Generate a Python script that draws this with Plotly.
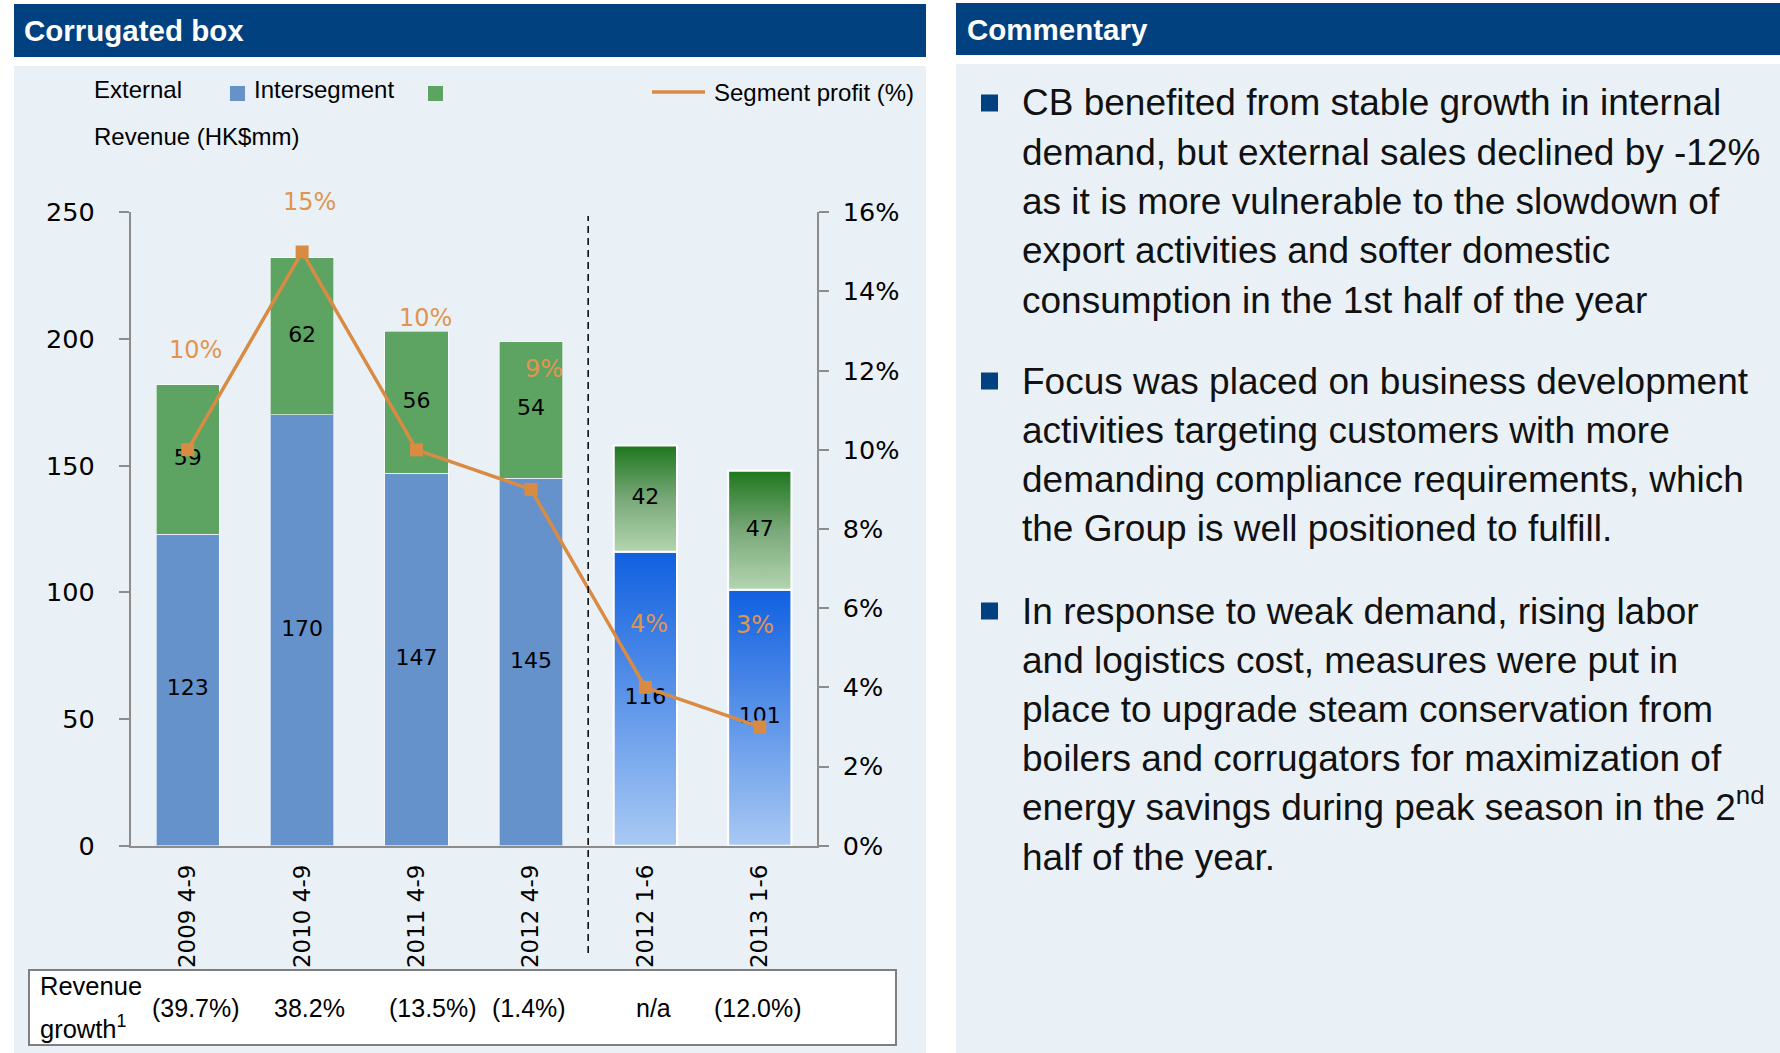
"""Corrugated box revenue slide: stacked revenue bars, profit margin line, commentary."""

import plotly.graph_objects as go

CATEGORIES = ["2009 4-9", "2010 4-9", "2011 4-9", "2012 4-9", "2012 1-6", "2013 1-6"]
EXTERNAL = [123, 170, 147, 145, 116, 101]
INTERSEGMENT = [59, 62, 56, 54, 42, 47]
SEGMENT_PROFIT = [0.10, 0.15, 0.10, 0.09, 0.04, 0.03]
REVENUE_GROWTH = ["(39.7%)", "38.2%", "(13.5%)", "(1.4%)", "n/a", "(12.0%)"]
N_FULL_PERIODS = 4  # first four are Apr-Sep periods, the rest are half-years

COMMENTARY = [
    [
        "CB benefited from stable growth in internal",
        "demand, but external sales declined by -12%",
        "as it is more vulnerable to the slowdown of",
        "export activities and softer domestic",
        "consumption in the 1st half of the year",
    ],
    [
        "Focus was placed on business development",
        "activities targeting customers with more",
        "demanding compliance requirements, which",
        "the Group is well positioned to fulfill.",
    ],
    [
        "In response to weak demand, rising labor",
        "and logistics cost, measures were put in",
        "place to upgrade steam conservation from",
        "boilers and corrugators for maximization of",
        "energy savings during peak season in the 2<sup>nd</sup>",
        "half of the year.",
    ],
]

W, H = 1780, 1053
HEADER_BLUE = "#02417F"
PANEL_BG = "#EAF1F6"
EXT_COLOUR = "#6592CB"
INT_COLOUR = "#5DA463"
PROFIT_COLOUR = "#D98B43"
PROFIT_LABEL_COLOUR = "#E0954F"
AXIS_GREY = "#8C8C8C"
BLUE_FADE = [[0, "#A9C9F3"], [1, "#1060E0"]]
GREEN_FADE = [[0, "#B3D5B0"], [0.5, "#79A879"], [1, "#1E771E"]]

BAR_W = 0.553
SANS = "Liberation Sans, Arial, sans-serif"
TICK_FONT = dict(family="DejaVu Sans", size=25.5, color="black")
LABEL_FONT = dict(family="DejaVu Sans", size=22, color="black")
LEGEND_FONT = dict(family=SANS, size=24, color="black")
HEADER_FONT = dict(family=SANS, size=29.5, color="white")

# label offsets (pixels) for the profit % labels and growth row
PROFIT_XSHIFT = [8, 7, 9, 13, 4, -5]
PROFIT_YSHIFT = [100, 50, 132, 120, 63, 102]
GROWTH_XSHIFT = [8, 7, 16, -2, 8, -2]


def fx(px):
    return px / W


def fy(py):
    return 1 - py / H


def paper_text(fig, text, px, py, font):
    fig.add_annotation(
        text=text, x=fx(px), y=fy(py), xref="paper", yref="paper",
        xanchor="left", yanchor="middle", showarrow=False, font=font,
    )


def paper_rect(x0, y0, x1, y1, **kw):
    return dict(type="rect", xref="paper", yref="paper",
                x0=fx(x0), x1=fx(x1), y0=fy(y1), y1=fy(y0), **kw)


fig = go.Figure()
xs = list(range(len(CATEGORIES)))

# solid bars for the full periods
for vals, colour in [(EXTERNAL, EXT_COLOUR), (INTERSEGMENT, INT_COLOUR)]:
    fig.add_trace(
        go.Bar(
            x=xs[:N_FULL_PERIODS],
            y=vals[:N_FULL_PERIODS],
            width=BAR_W,
            marker=dict(color=colour, line=dict(color="rgba(255,255,255,0.6)", width=1)),
            hoverinfo="skip",
        )
    )

# gradient bars for the half-year periods
for i in xs[N_FULL_PERIODS:]:
    for base, val, scale in [(0, EXTERNAL[i], BLUE_FADE), (EXTERNAL[i], INTERSEGMENT[i], GREEN_FADE)]:
        x0, x1 = i - BAR_W / 2, i + BAR_W / 2
        fig.add_trace(
            go.Scatter(
                x=[x0, x1, x1, x0, x0],
                y=[base, base, base + val, base + val, base],
                mode="lines",
                fill="toself",
                fillgradient=dict(type="vertical", colorscale=scale, start=base, stop=base + val),
                line=dict(color="white", width=2),
                hoverinfo="skip",
            )
        )

# value labels in the middle of each segment
fig.add_trace(
    go.Scatter(
        x=xs,
        y=[e / 2 for e in EXTERNAL],
        mode="text",
        text=[str(e) for e in EXTERNAL],
        textfont=LABEL_FONT,
        hoverinfo="skip",
    )
)
fig.add_trace(
    go.Scatter(
        x=xs,
        y=[e + s / 2 for e, s in zip(EXTERNAL, INTERSEGMENT)],
        mode="text",
        text=[str(s) for s in INTERSEGMENT],
        textfont=LABEL_FONT,
        hoverinfo="skip",
    )
)

# segment profit line on the right axis
fig.add_trace(
    go.Scatter(
        x=xs,
        y=SEGMENT_PROFIT,
        yaxis="y2",
        mode="lines+markers",
        line=dict(color=PROFIT_COLOUR, width=3.5),
        marker=dict(symbol="square", size=13, color=PROFIT_COLOUR),
        hoverinfo="skip",
    )
)

for i, p in enumerate(SEGMENT_PROFIT):
    fig.add_annotation(
        x=i, y=p, xref="x", yref="y2",
        text=f"{p:.0%}", showarrow=False,
        xshift=PROFIT_XSHIFT[i], yshift=PROFIT_YSHIFT[i],
        font=dict(family="DejaVu Sans", size=24, color=PROFIT_LABEL_COLOUR),
    )

shapes = [
    # headers and panels
    paper_rect(14, 4, 926, 57, fillcolor=HEADER_BLUE, line=dict(width=0), layer="below"),
    paper_rect(14, 66, 926, 1060, fillcolor=PANEL_BG, line=dict(width=0), layer="below"),
    paper_rect(956, 3, 1785, 55, fillcolor=HEADER_BLUE, line=dict(width=0), layer="below"),
    paper_rect(956, 64, 1785, 1060, fillcolor=PANEL_BG, line=dict(width=0), layer="below"),
    # legend keys
    paper_rect(230, 86, 245, 101, fillcolor=EXT_COLOUR, line=dict(width=0)),
    paper_rect(428, 86, 443, 101, fillcolor=INT_COLOUR, line=dict(width=0)),
    dict(type="line", xref="paper", yref="paper", x0=fx(652), x1=fx(705), y0=fy(92), y1=fy(92),
         line=dict(color=PROFIT_COLOUR, width=3.5)),
    # divider between Apr-Sep periods and half-years
    dict(type="line", xref="x", yref="paper", x0=N_FULL_PERIODS - 0.5, x1=N_FULL_PERIODS - 0.5,
         y0=fy(953), y1=fy(216), line=dict(color="black", width=1.5, dash="7px,5px")),
    # revenue growth table
    paper_rect(29, 970, 896, 1045, fillcolor="white", line=dict(color="#7F7F7F", width=2)),
]

# commentary bullets
BULLET_TOPS = [103, 381, 611]
LINE_STEP = 49.3
for top in BULLET_TOPS:
    shapes.append(paper_rect(981, top - 8.5, 998, top + 8.5, fillcolor=HEADER_BLUE, line=dict(width=0)))

paper_text(fig, "<b>Corrugated box</b>", 22, 31, HEADER_FONT)
paper_text(fig, "<b>Commentary</b>", 965, 30, HEADER_FONT)
paper_text(fig, "External", 92, 89, LEGEND_FONT)
paper_text(fig, "Intersegment", 252, 89, LEGEND_FONT)
paper_text(fig, "Segment profit (%)", 712, 93, LEGEND_FONT)
paper_text(fig, "Revenue (HK$mm)", 92, 136, LEGEND_FONT)

TABLE_FONT = dict(family=SANS, size=25, color="black")
paper_text(fig, "Revenue", 38, 986, dict(family=SANS, size=25.5, color="black"))
paper_text(fig, "growth<sup>1</sup>", 38, 1027, dict(family=SANS, size=25.5, color="black"))
for i, g in enumerate(REVENUE_GROWTH):
    fig.add_annotation(
        text=g, x=i, y=fy(1008), xref="x", yref="paper", xanchor="center", yanchor="middle",
        xshift=GROWTH_XSHIFT[i], showarrow=False, font=TABLE_FONT,
    )

for top, lines in zip(BULLET_TOPS, COMMENTARY):
    for k, line in enumerate(lines):
        y = top + k * LINE_STEP - (4 if "<sup>" in line else 0)
        paper_text(fig, line, 1020, y, dict(family=SANS, size=37, color="#111111"))

axis_common = dict(
    ticks="outside",
    ticklen=10,
    tickcolor=AXIS_GREY,
    tickwidth=1.5,
    tickfont=TICK_FONT,
    showline=True,
    linecolor=AXIS_GREY,
    linewidth=1.5,
    showgrid=False,
    zeroline=False,
    automargin=False,
    fixedrange=True,
)

fig.update_layout(
    width=W,
    height=H,
    margin=dict(l=0, r=0, t=0, b=0),
    paper_bgcolor="white",
    plot_bgcolor="rgba(0,0,0,0)",
    barmode="stack",
    showlegend=False,
    shapes=shapes,
    xaxis=dict(
        domain=[fx(130.5), fx(817)],
        range=[-0.5, len(CATEGORIES) - 0.5],
        tickvals=xs,
        ticktext=CATEGORIES,
        tickangle=-90,
        tickfont=dict(family="DejaVu Sans", size=23, color="black"),
        ticks="",
        ticklabelstandoff=8,
        showline=True,
        linecolor=AXIS_GREY,
        linewidth=1.5,
        showgrid=False,
        zeroline=False,
        automargin=False,
        fixedrange=True,
    ),
    yaxis=dict(
        domain=[fy(845.7), fy(212.3)],
        range=[0, 250],
        tickvals=[0, 50, 100, 150, 200, 250],
        ticklabelstandoff=19,
        **axis_common,
    ),
    yaxis2=dict(
        overlaying="y",
        side="right",
        range=[0, 0.16],
        dtick=0.02,
        tickformat=".0%",
        ticklabelstandoff=9,
        **axis_common,
    ),
)

# drop the default page margin so the figure sits at the window's top-left corner
fig.write_html(
    "out.html",
    config={"displayModeBar": False},
    post_script="document.body.style.margin='0';document.body.style.overflow='hidden';",
)
